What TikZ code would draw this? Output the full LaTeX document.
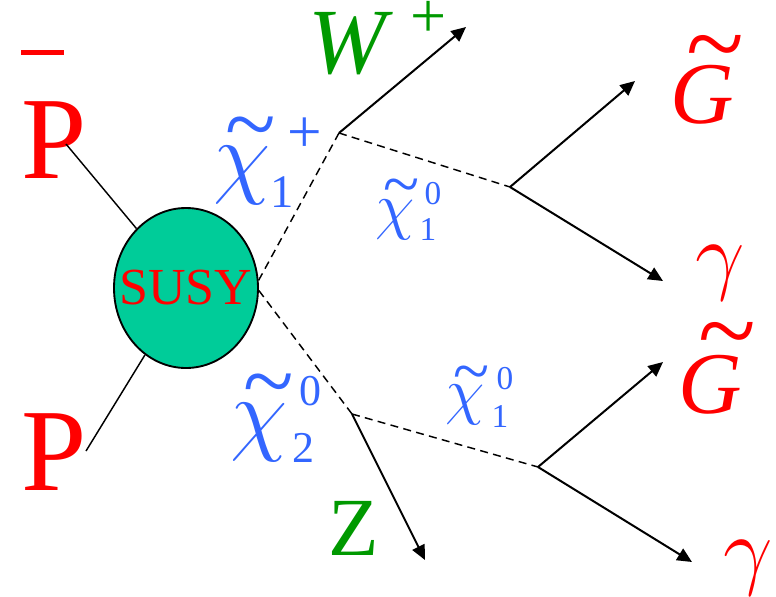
\RequirePackage{fix-cm}
\documentclass[tikz,border=0pt]{standalone}
\usepackage{fontspec}
\setmainfont{Liberation Serif}
\usepackage{xcolor}
\usetikzlibrary{arrows.meta,shapes.geometric}
\definecolor{susyred}{RGB}{255,0,0}
\definecolor{blobgreen}{RGB}{0,204,153}
\definecolor{bosongreen}{RGB}{0,153,0}
\definecolor{inoblue}{RGB}{51,102,255}
\tikzset{
  blob/.style={ellipse, draw=black, line width=1.4pt, fill=blobgreen, minimum width=108pt,
               minimum height=120pt, inner sep=0pt, text=susyred, font=\fontsize{39}{39}\selectfont},
  prop/.style={line width=1.1pt, dash pattern=on 6pt off 4pt},
  arr/.style={-{Triangle[length=11pt,width=10pt]}, line width=1.5pt},
  beam/.style={line width=1.1pt},
  lbl/.style={inner sep=0pt, anchor=base west},
  big/.style={font=\fontsize{#1}{#1}\selectfont},
}

\begin{document}
\begin{tikzpicture}[x=0.75pt,y=-0.75pt]
\useasboundingbox (0,0) rectangle (776,597);
% production
\node[blob] (susy) at (186,288) {\makebox[0pt]{SUSY}};
\node[lbl, text=susyred, big=88] (pbar) at (21,178) {\rlap{\raisebox{92pt}{\rule{32pt}{3.75pt}}}P};
\node[lbl, text=susyred, big=88] (p) at (21,490) {P};
\coordinate (pbarend) at (66,144);
\coordinate (pend) at (86,451);
\draw[beam] (pbarend) -- (susy);
\draw[beam] (pend) -- (susy);
% decay vertices
\coordinate (v1) at (339,133);
\coordinate (v2) at (352,414);
\coordinate (v3) at (510,187);
\coordinate (v4) at (538,467);
\coordinate (wend) at (466,27);
\coordinate (zend) at (425,560);
\coordinate (g1end) at (635,81);
\coordinate (gam1end) at (663,281);
\coordinate (g2end) at (663,362);
\coordinate (gam2end) at (692,562);
\draw[prop] (susy.6) -- (v1);
\draw[prop] (susy.-2) -- (v2);
\draw[prop] (v1) -- (v3);
\draw[prop] (v2) -- (v4);
\draw[arr] (v1) -- (wend);
\draw[arr] (v2) -- (zend);
\draw[arr] (v3) -- (g1end);
\draw[arr] (v3) -- (gam1end);
\draw[arr] (v4) -- (g2end);
\draw[arr] (v4) -- (gam2end);
% labels
\node[lbl, text=inoblue] (chipl) at (213,186) {\fontsize{70}{70}\selectfont\rlap{\hspace{27.75pt}\makebox[0pt]{\raisebox{22.6pt}{\textasciitilde}}}\rlap{$\chi$}\hspace{42.6pt}\fontsize{35}{35}\selectfont\rlap{\raisebox{-15.75pt}{1}}\hspace{12.9pt}\raisebox{25.5pt}{\fontsize{46}{46}\selectfont+}};
\node[lbl, text=inoblue] (chitwo) at (230,443) {\fontsize{70}{70}\selectfont\rlap{\hspace{28.9pt}\makebox[0pt]{\raisebox{23pt}{\textasciitilde}}}\rlap{$\chi$}\hspace{46.7pt}\fontsize{33}{33}\selectfont\rlap{\raisebox{-14.25pt}{2}}\hspace{5.1pt}\raisebox{28.5pt}{0}};
\node[lbl, text=inoblue] (chiup) at (375,227.6) {\fontsize{48}{48}\selectfont\rlap{\hspace{19.5pt}\makebox[0pt]{\raisebox{15.7pt}{\fontsize{50}{50}\selectfont\textasciitilde}}}\rlap{$\chi$}\hspace{33.2pt}\fontsize{25}{25}\selectfont\rlap{\raisebox{-9.3pt}{1}}\hspace{3.75pt}\raisebox{17pt}{0}};
\node[lbl, text=inoblue] (chilo) at (445,412.6) {\fontsize{48}{48}\selectfont\rlap{\hspace{19.5pt}\makebox[0pt]{\raisebox{14.2pt}{\fontsize{50}{50}\selectfont\textasciitilde}}}\rlap{$\chi$}\hspace{34.7pt}\fontsize{25}{25}\selectfont\rlap{\raisebox{-10.8pt}{1}}\hspace{3.75pt}\raisebox{17pt}{0}};
\node[lbl, text=bosongreen] (wlab) at (308,73) {\fontsize{70}{70}\selectfont\rlap{\itshape W}\hspace{77pt}\raisebox{26.5pt}{\fontsize{48}{48}\selectfont+}};
\node[lbl, text=bosongreen, big=62] (zlab) at (328,555) {Z};
\node[lbl, text=susyred, big=66] (gup) at (670.6,123) {\rlap{\hspace{33.3pt}\makebox[0pt]{\raisebox{32.7pt}{\fontsize{80}{80}\selectfont\textasciitilde}}}\itshape G};
\node[lbl, text=susyred, big=66] (gamup) at (695,283) {$\gamma$};
\node[lbl, text=susyred, big=66] (glo) at (678.6,413) {\rlap{\hspace{36.7pt}\makebox[0pt]{\raisebox{34.6pt}{\fontsize{80}{80}\selectfont\textasciitilde}}}\itshape G};
\node[lbl, text=susyred, big=66] (gamlo) at (723,578) {$\gamma$};
\end{tikzpicture}
\end{document}
